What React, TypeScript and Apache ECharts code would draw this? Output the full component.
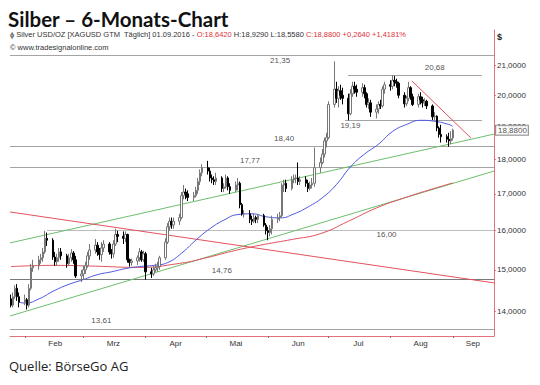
import React, { useEffect, useRef } from "react";
import * as echarts from "echarts";

// ---------- data ----------
// [date, open, close, low, high]
const candles: [string, number, number, number, number][] = [
  ["2016-01-25", 14.3, 14.15, 14.1, 14.4],
  ["2016-01-26", 14.15, 14.35, 14.1, 14.45],
  ["2016-01-27", 14.35, 14.55, 14.3, 14.62],
  ["2016-01-28", 14.55, 14.35, 14.25, 14.65],
  ["2016-01-29", 14.35, 14.22, 14.1, 14.45],
  ["2016-02-01", 14.22, 14.28, 14.15, 14.4],
  ["2016-02-02", 14.28, 14.15, 14.05, 14.32],
  ["2016-02-03", 14.15, 14.55, 14.1, 14.65],
  ["2016-02-04", 14.55, 15.05, 14.5, 15.15],
  ["2016-02-05", 15.05, 15.1, 14.95, 15.25],
  ["2016-02-08", 15.1, 15.25, 15.0, 15.35],
  ["2016-02-09", 15.25, 15.3, 15.15, 15.4],
  ["2016-02-10", 15.3, 15.45, 15.2, 15.55],
  ["2016-02-11", 15.45, 15.8, 15.4, 16.0],
  ["2016-02-12", 15.8, 15.75, 15.6, 15.95],
  ["2016-02-15", 15.75, 15.32, 15.25, 15.8],
  ["2016-02-16", 15.32, 15.2, 15.1, 15.45],
  ["2016-02-17", 15.2, 15.3, 15.1, 15.4],
  ["2016-02-18", 15.3, 15.45, 15.2, 15.55],
  ["2016-02-19", 15.45, 15.35, 15.25, 15.55],
  ["2016-02-22", 15.35, 15.15, 15.05, 15.4],
  ["2016-02-23", 15.15, 15.3, 15.1, 15.4],
  ["2016-02-24", 15.3, 15.42, 15.2, 15.52],
  ["2016-02-25", 15.42, 15.25, 15.15, 15.47],
  ["2016-02-26", 15.25, 14.85, 14.8, 15.35],
  ["2016-02-29", 14.85, 14.9, 14.7, 15.0],
  ["2016-03-01", 14.9, 15.0, 14.75, 15.1],
  ["2016-03-02", 15.0, 15.1, 14.9, 15.2],
  ["2016-03-03", 15.1, 15.35, 15.05, 15.45],
  ["2016-03-04", 15.35, 15.5, 15.25, 15.65],
  ["2016-03-07", 15.5, 15.62, 15.4, 15.78],
  ["2016-03-08", 15.62, 15.45, 15.35, 15.7],
  ["2016-03-09", 15.45, 15.38, 15.25, 15.55],
  ["2016-03-10", 15.38, 15.55, 15.2, 15.7],
  ["2016-03-11", 15.55, 15.65, 15.45, 15.75],
  ["2016-03-14", 15.65, 15.45, 15.38, 15.7],
  ["2016-03-15", 15.45, 15.4, 15.28, 15.52],
  ["2016-03-16", 15.4, 15.65, 15.3, 15.75],
  ["2016-03-17", 15.65, 15.9, 15.6, 16.05],
  ["2016-03-18", 15.9, 15.85, 15.7, 16.0],
  ["2016-03-21", 15.85, 15.8, 15.65, 15.98],
  ["2016-03-22", 15.8, 15.9, 15.7, 15.98],
  ["2016-03-23", 15.9, 15.25, 15.18, 15.92],
  ["2016-03-24", 15.25, 15.18, 15.08, 15.28],
  ["2016-03-25", 15.18, 15.22, 15.1, 15.28],
  ["2016-03-28", 15.22, 15.3, 15.12, 15.36],
  ["2016-03-29", 15.3, 15.45, 15.2, 15.55],
  ["2016-03-30", 15.45, 15.25, 15.2, 15.5],
  ["2016-03-31", 15.25, 15.4, 15.2, 15.48],
  ["2016-04-01", 15.4, 14.95, 14.76, 15.45],
  ["2016-04-04", 14.95, 14.9, 14.8, 15.05],
  ["2016-04-05", 14.9, 15.0, 14.85, 15.1],
  ["2016-04-06", 15.0, 15.05, 14.95, 15.15],
  ["2016-04-07", 15.05, 15.08, 14.95, 15.2],
  ["2016-04-08", 15.08, 15.3, 15.0, 15.35],
  ["2016-04-11", 15.3, 15.7, 15.25, 15.8],
  ["2016-04-12", 15.7, 16.1, 15.65, 16.2],
  ["2016-04-13", 16.1, 16.25, 16.0, 16.35],
  ["2016-04-14", 16.25, 16.15, 16.05, 16.35],
  ["2016-04-15", 16.15, 16.25, 16.05, 16.35],
  ["2016-04-18", 16.25, 16.35, 16.15, 16.45],
  ["2016-04-19", 16.35, 16.95, 16.3, 17.05],
  ["2016-04-20", 16.95, 17.05, 16.85, 17.25],
  ["2016-04-21", 17.05, 17.0, 16.85, 17.15],
  ["2016-04-22", 17.0, 16.9, 16.8, 17.1],
  ["2016-04-25", 16.9, 16.95, 16.8, 17.05],
  ["2016-04-26", 16.95, 17.1, 16.9, 17.2],
  ["2016-04-27", 17.1, 17.35, 17.0, 17.45],
  ["2016-04-28", 17.35, 17.6, 17.25, 17.7],
  ["2016-04-29", 17.6, 17.75, 17.5, 17.85],
  ["2016-05-02", 17.75, 17.65, 17.55, 17.95],
  ["2016-05-03", 17.65, 17.45, 17.35, 17.75],
  ["2016-05-04", 17.45, 17.4, 17.3, 17.55],
  ["2016-05-05", 17.4, 17.35, 17.25, 17.5],
  ["2016-05-06", 17.35, 17.45, 17.25, 17.6],
  ["2016-05-09", 17.45, 17.15, 17.05, 17.5],
  ["2016-05-10", 17.15, 17.2, 17.05, 17.3],
  ["2016-05-11", 17.2, 17.45, 17.15, 17.55],
  ["2016-05-12", 17.45, 17.2, 17.1, 17.5],
  ["2016-05-13", 17.2, 17.1, 17.0, 17.3],
  ["2016-05-16", 17.1, 17.25, 17.05, 17.35],
  ["2016-05-17", 17.25, 17.3, 17.1, 17.45],
  ["2016-05-18", 17.3, 16.7, 16.6, 17.35],
  ["2016-05-19", 16.7, 16.45, 16.4, 16.75],
  ["2016-05-20", 16.45, 16.45, 16.35, 16.55],
  ["2016-05-23", 16.45, 16.3, 16.2, 16.55],
  ["2016-05-24", 16.3, 16.25, 16.15, 16.4],
  ["2016-05-25", 16.25, 16.35, 16.2, 16.45],
  ["2016-05-26", 16.35, 16.3, 16.2, 16.4],
  ["2016-05-27", 16.3, 16.4, 16.2, 16.45],
  ["2016-05-30", 16.4, 16.15, 16.1, 16.45],
  ["2016-05-31", 16.15, 16.0, 15.9, 16.2],
  ["2016-06-01", 16.0, 15.95, 15.75, 16.1],
  ["2016-06-02", 15.95, 16.05, 15.85, 16.15],
  ["2016-06-03", 16.05, 16.3, 15.9, 16.4],
  ["2016-06-06", 16.3, 16.35, 16.2, 16.45],
  ["2016-06-07", 16.35, 16.4, 16.25, 16.5],
  ["2016-06-08", 16.4, 17.25, 16.35, 17.3],
  ["2016-06-09", 17.25, 17.3, 17.05, 17.4],
  ["2016-06-10", 17.3, 17.15, 17.05, 17.4],
  ["2016-06-13", 17.15, 17.4, 17.1, 17.5],
  ["2016-06-14", 17.4, 17.45, 17.3, 17.55],
  ["2016-06-15", 17.45, 17.45, 17.3, 17.55],
  ["2016-06-16", 17.45, 17.35, 17.25, 17.9],
  ["2016-06-17", 17.35, 17.4, 17.25, 17.5],
  ["2016-06-20", 17.4, 17.3, 17.2, 17.5],
  ["2016-06-21", 17.3, 17.15, 17.05, 17.4],
  ["2016-06-22", 17.15, 17.25, 17.1, 17.35],
  ["2016-06-23", 17.25, 17.3, 17.15, 17.45],
  ["2016-06-24", 17.3, 17.75, 17.2, 18.35],
  ["2016-06-27", 17.75, 17.9, 17.6, 18.05],
  ["2016-06-28", 17.9, 18.15, 17.85, 18.3],
  ["2016-06-29", 18.15, 18.55, 18.05, 18.65],
  ["2016-06-30", 18.55, 18.65, 18.35, 18.8],
  ["2016-07-01", 18.65, 19.7, 18.6, 19.8],
  ["2016-07-04", 19.7, 20.2, 19.6, 21.15],
  ["2016-07-05", 20.2, 19.9, 19.75, 20.45],
  ["2016-07-06", 19.9, 20.15, 19.6, 20.3],
  ["2016-07-07", 20.15, 20.0, 19.85, 20.35],
  ["2016-07-08", 20.0, 19.9, 19.7, 20.25],
  ["2016-07-11", 19.9, 19.4, 19.19, 20.05],
  ["2016-07-12", 19.4, 20.05, 19.35, 20.2],
  ["2016-07-13", 20.05, 20.3, 19.95, 20.45],
  ["2016-07-14", 20.3, 20.2, 20.05, 20.45],
  ["2016-07-15", 20.2, 20.1, 19.95, 20.35],
  ["2016-07-18", 20.1, 20.25, 19.95, 20.4],
  ["2016-07-19", 20.25, 20.05, 19.9, 20.35],
  ["2016-07-20", 20.05, 19.7, 19.6, 20.1],
  ["2016-07-21", 19.7, 19.75, 19.55, 19.9],
  ["2016-07-22", 19.75, 19.45, 19.3, 19.85],
  ["2016-07-25", 19.45, 19.55, 19.25, 19.7],
  ["2016-07-26", 19.55, 19.7, 19.4, 19.8],
  ["2016-07-27", 19.7, 19.65, 19.55, 19.85],
  ["2016-07-28", 19.65, 20.2, 19.6, 20.3],
  ["2016-07-29", 20.2, 20.35, 20.05, 20.45],
  ["2016-08-01", 20.35, 20.3, 20.15, 20.5],
  ["2016-08-02", 20.3, 20.5, 20.2, 20.68],
  ["2016-08-03", 20.5, 20.45, 20.3, 20.65],
  ["2016-08-04", 20.45, 20.4, 20.25, 20.55],
  ["2016-08-05", 20.4, 20.0, 19.9, 20.45],
  ["2016-08-08", 20.0, 19.72, 19.6, 20.1],
  ["2016-08-09", 19.72, 19.9, 19.65, 19.98],
  ["2016-08-10", 19.9, 20.25, 19.8, 20.45],
  ["2016-08-11", 20.25, 19.95, 19.85, 20.3],
  ["2016-08-12", 19.95, 19.7, 19.65, 20.05],
  ["2016-08-15", 19.7, 19.95, 19.6, 20.05],
  ["2016-08-16", 19.95, 19.85, 19.7, 20.1],
  ["2016-08-17", 19.85, 19.75, 19.6, 19.95],
  ["2016-08-18", 19.75, 19.8, 19.65, 19.9],
  ["2016-08-19", 19.8, 19.65, 19.55, 19.85],
  ["2016-08-22", 19.65, 19.3, 19.2, 19.7],
  ["2016-08-23", 19.3, 19.32, 19.2, 19.45],
  ["2016-08-24", 19.32, 18.95, 18.85, 19.35],
  ["2016-08-25", 18.95, 18.75, 18.65, 19.0],
  ["2016-08-26", 18.75, 18.68, 18.5, 19.05],
  ["2016-08-29", 18.68, 18.6, 18.5, 18.75],
  ["2016-08-30", 18.6, 18.55, 18.37, 18.8],
  ["2016-08-31", 18.55, 18.616, 18.45, 18.85],
  ["2016-09-01", 18.642, 18.88, 18.558, 18.929],
];

// blue moving average
const maShort: [string, number][] = [
  ["2016-01-29", 14.22], ["2016-02-01", 14.2], ["2016-02-08", 14.3], ["2016-02-15", 14.48],
  ["2016-02-22", 14.63], ["2016-03-01", 14.76], ["2016-03-08", 14.88], ["2016-03-15", 14.95],
  ["2016-03-22", 15.03], ["2016-03-29", 15.08], ["2016-04-05", 15.11], ["2016-04-12", 15.18],
  ["2016-04-19", 15.42], ["2016-04-26", 15.75], ["2016-05-03", 16.05], ["2016-05-10", 16.28],
  ["2016-05-17", 16.43], ["2016-05-24", 16.45], ["2016-05-31", 16.37], ["2016-06-07", 16.34],
  ["2016-06-14", 16.45], ["2016-06-21", 16.64], ["2016-06-28", 16.89], ["2016-07-05", 17.26],
  ["2016-07-12", 17.77], ["2016-07-19", 18.15], ["2016-07-26", 18.45], ["2016-08-02", 18.84],
  ["2016-08-09", 19.06], ["2016-08-16", 19.19], ["2016-08-23", 19.16], ["2016-08-30", 19.06],
  ["2016-09-01", 19.0],
];

// red long moving average
const maLong: [string, number][] = [
  ["2016-01-25", 15.08], ["2016-02-15", 15.11], ["2016-03-07", 15.09], ["2016-03-28", 15.06],
  ["2016-04-18", 15.16], ["2016-05-02", 15.31], ["2016-05-16", 15.49], ["2016-05-30", 15.64],
  ["2016-06-13", 15.77], ["2016-06-27", 15.92], ["2016-07-11", 16.25], ["2016-07-25", 16.61],
  ["2016-08-08", 16.89], ["2016-08-22", 17.14], ["2016-09-01", 17.31],
];

// horizontal levels
const levelValues = [21.35, 20.68, 19.19, 18.4, 17.77, 16.0, 14.76, 13.61];
const levelStarts: (string | null)[] = [null, "2016-07-10 19:00", "2016-07-09 07:00", null, null, "2016-02-11 23:00", null, null];
const levelEnds: (string | null)[] = [null, "2016-09-15 12:00", "2016-09-15 12:00", null, null, null, null, null];
const levelLabelDates = ["2016-06-07", "2016-08-23", "2016-07-12", "2016-06-09", "2016-05-23", "2016-07-30", "2016-05-09", "2016-03-10"];

// trend lines: [startDate, startValue, endDate, endValue]
const greenUpper: [string, number, string, number] = ["2016-01-24 12:00", 15.68, "2016-09-21 12:00", 18.76];
const greenLower: [string, number, string, number] = ["2016-01-24 12:00", 13.9, "2016-09-21 12:00", 17.65];
const redLong: [string, number, string, number] = ["2016-01-24 12:00", 16.5, "2016-09-21 12:00", 14.68];
const redShort: [string, number, string, number] = ["2016-08-11 14:00", 20.48, "2016-09-10 00:00", 18.64];

// axes
const priceTicks = [14, 15, 16, 17, 18, 19, 20, 21];
const monthNames = ["Feb", "Mrz", "Apr", "Mai", "Jun", "Jul", "Aug", "Sep"];
const monthStarts = ["2016-02-01", "2016-03-01", "2016-04-01", "2016-05-01", "2016-06-01", "2016-07-01", "2016-08-01", "2016-09-01"];
const monthLabelDates = ["2016-02-16", "2016-03-16", "2016-04-16", "2016-05-16", "2016-06-16", "2016-07-16", "2016-08-16", "2016-09-11"];
const xMin = "2016-01-24 12:00";
const xMax = "2016-09-21 12:00";

// ---------- helpers ----------
const ts = (s: string) => {
  const [d, t] = s.split(" ");
  const [y, m, dd] = d.split("-").map(Number);
  const [hh, mm] = (t || "00:00").split(":").map(Number);
  return new Date(y, m - 1, dd, hh, mm).getTime();
};
const de = (v: number, n: number) => v.toFixed(n).replace(".", ",");

const RED_AXIS = "#e2727c";
const FONT = "'Liberation Sans', Arial, sans-serif";

export default function App() {
  const ref = useRef<HTMLDivElement>(null);
  useEffect(() => {
    if (!ref.current) return;
    const chart = echarts.init(ref.current, null, { renderer: "svg" });

    const last = candles[candles.length - 1];
    const prev = candles[candles.length - 2];
    const chg = last[2] - prev[2];
    const pct = (chg / prev[2]) * 100;

    const levelLines = levelValues.map((v, i) => {
      const color = v === 14.76 ? "#7a7a7a" : v === 16.0 ? "#bdbdbd" : "#a4a4a4";
      const start = levelStarts[i] || xMin;
      const end = levelEnds[i] || xMax;
      return [
        { coord: [ts(start), v], lineStyle: { color, width: 1, type: "solid" } },
        { coord: [ts(end), v] },
      ];
    });

    const trend = (t: [string, number, string, number], color: string) => [
      { coord: [ts(t[0]), t[1]], lineStyle: { color, width: 1, type: "solid" } },
      { coord: [ts(t[2]), t[3]] },
    ];

    const labelPlacement: { pos: string; dist: number }[] = [
      { pos: "bottom", dist: 1 },
      { pos: "top", dist: 3 },
      { pos: "bottom", dist: 1.5 },
      { pos: "top", dist: 3 },
      { pos: "top", dist: 2.5 },
      { pos: "bottom", dist: 0 },
      { pos: "top", dist: 5.5 },
      { pos: "top", dist: 4.5 },
    ];

    const option: any = {
      animation: false,
      backgroundColor: "#ffffff",
      textStyle: { fontFamily: FONT },
      grid: { left: 10, right: 46, top: 30, bottom: 49, containLabel: false },
      xAxis: {
        type: "value",
        min: ts(xMin),
        max: ts(xMax),
        scale: true,
        axisLine: { show: true, onZero: false, lineStyle: { color: RED_AXIS, width: 1 } },
        axisTick: { show: true, length: 2, customValues: monthStarts.map(ts), lineStyle: { color: "#777" } },
        axisLabel: {
          show: true,
          customValues: monthLabelDates.map(ts),
          formatter: (val: number) => {
            const idx = monthLabelDates.findIndex((d) => Math.abs(ts(d) - val) < 86400000);
            return idx >= 0 ? monthNames[idx] : "";
          },
          fontSize: 8,
          color: "#333",
          margin: 3,
          hideOverlap: false,
          fontFamily: FONT,
        },
        splitLine: { show: false },
      },
      yAxis: {
        type: "log",
        logBase: 10,
        position: "right",
        min: 13.45,
        max: 22.27,
        axisLine: { show: true, onZero: false, lineStyle: { color: RED_AXIS, width: 1 } },
        axisTick: { show: true, length: 2, customValues: priceTicks, lineStyle: { color: RED_AXIS } },
        axisLabel: {
          customValues: priceTicks,
          formatter: (v: number) => de(v, 4),
          fontSize: 8,
          color: "#333",
          margin: 3,
          hideOverlap: false,
          fontFamily: FONT,
        },
        splitLine: { show: false },
      },
      graphic: [
        {
          type: "text",
          x: 8,
          y: 19,
          style: {
            text: "Silber – 6-Monats-Chart",
            font: "bold 20.5px Lato",
            fill: "#111",
            verticalAlign: "middle",
          },
        },
        {
          type: "text",
          x: 10,
          y: 34,
          style: {
            text:
              "{k|ɸ Silver USD/OZ [XAGUSD GTM  Täglich] 01.09.2016 - }{r|O:" +
              de(last[1], 4) +
              "}{k| H:" +
              de(last[4], 4) +
              " L:" +
              de(last[3], 4) +
              " }{r|C:" +
              de(last[2], 4) +
              " +" +
              de(chg, 4) +
              " +" +
              de(pct, 4) +
              "%}",
            verticalAlign: "middle",
            rich: {
              k: { fill: "#333", fontSize: 7.5, fontFamily: FONT },
              r: { fill: "#e0303a", fontSize: 7.5, fontFamily: FONT },
            },
          },
        },
        {
          type: "text",
          x: 10,
          y: 47,
          style: { text: "© www.tradesignalonline.com", fill: "#333", fontSize: 7.5, fontFamily: FONT, verticalAlign: "middle" },
        },
        {
          type: "text",
          x: 497,
          y: 37,
          style: { text: "$", fill: "#222", fontSize: 9, fontWeight: "bold", fontFamily: FONT, verticalAlign: "middle" },
        },
        {
          type: "text",
          x: 9,
          y: 366,
          style: { text: "Quelle: BörseGo AG", fill: "#222", fontSize: 13, fontFamily: "'Open Sans'", verticalAlign: "middle" },
        },
      ],
      series: [
        {
          name: "maLong",
          type: "line",
          data: maLong.map((p) => [ts(p[0]), p[1]]),
          smooth: true,
          showSymbol: false,
          symbol: "none",
          lineStyle: { color: "#e2525e", width: 1 },
          z: 2,
        },
        {
          name: "maShort",
          type: "line",
          data: maShort.map((p) => [ts(p[0]), p[1]]),
          smooth: true,
          showSymbol: false,
          symbol: "none",
          lineStyle: { color: "#4a55e0", width: 1 },
          z: 2,
        },
        {
          name: "Silber",
          type: "candlestick",
          data: candles.map((r) => [ts(r[0]), r[1], r[2], r[3], r[4]]),
          encode: { x: 0, y: [1, 2, 3, 4] },
          barWidth: 2,
          z: 3,
          itemStyle: {
            color: "#ffffff",
            color0: "#000000",
            borderColor: "#777777",
            borderColor0: "#000000",
            borderWidth: 1,
          },
          markLine: {
            silent: true,
            symbol: ["none", "none"],
            label: { show: false },
            z: 1,
            data: [
              ...levelLines,
              trend(greenUpper, "#6cbf6c"),
              trend(greenLower, "#6cbf6c"),
              trend(redLong, "#e2525e"),
              trend(redShort, "#e2525e"),
            ],
          },
        },
        {
          name: "levelLabels",
          type: "scatter",
          symbolSize: 0,
          z: 4,
          clip: false,
          data: levelValues.map((v, i) => ({
            value: [ts(levelLabelDates[i]), v],
            label: {
              show: true,
              position: labelPlacement[i].pos,
              distance: labelPlacement[i].dist,
              formatter: de(v, 2),
              fontSize: 8,
              color: "#222",
              fontFamily: FONT,
            },
          })),
        },
        {
          name: "lastPrice",
          type: "scatter",
          symbolSize: 0,
          z: 5,
          clip: false,
          data: [
            {
              value: [ts(xMax), last[2]],
              label: {
                show: true,
                position: "right",
                distance: 2,
                formatter: de(last[2], 4),
                fontSize: 8,
                color: "#222",
                fontFamily: FONT,
                backgroundColor: "#ffffff",
                borderColor: "#777",
                borderWidth: 1,
                padding: [1, 1, 0, 2],
              },
            },
          ],
        },
      ],
    };

    chart.setOption(option);
    return () => chart.dispose();
  }, []);

  return (
    <div style={{ position: "fixed", left: 0, top: 0, width: 540, height: 385, background: "#fff" }}>
      <div ref={ref} style={{ width: 540, height: 385 }} />
    </div>
  );
}
